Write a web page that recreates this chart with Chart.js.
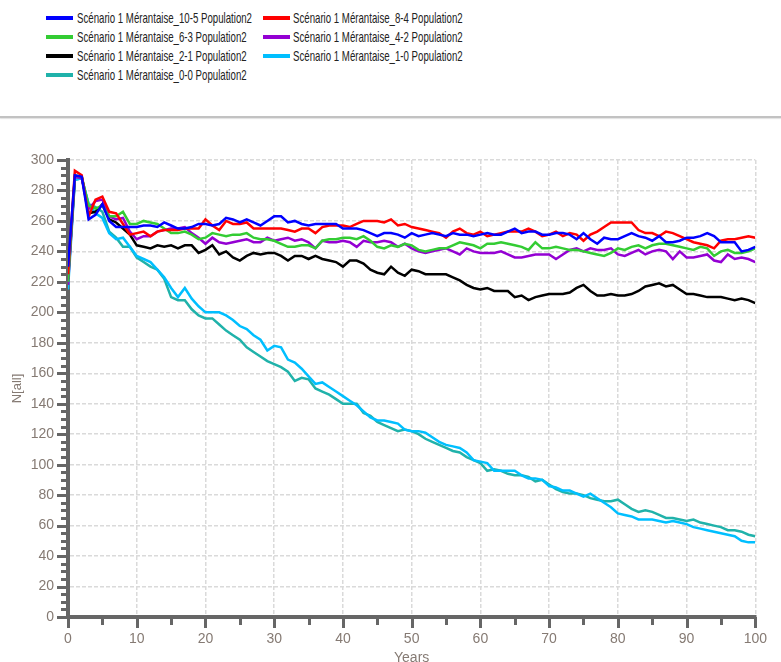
<!DOCTYPE html>
<html><head><meta charset="utf-8">
<script src="https://cdn.jsdelivr.net/npm/chart.js@4.4.1/dist/chart.umd.min.js"></script>
<style>
html,body{margin:0;padding:0;background:#fff;width:781px;height:662px;overflow:hidden;position:relative}
#sep{position:absolute;left:0;top:116px;width:781px;height:2px;background:#c2c2c2;box-shadow:0 1px 1px #e2e2e2}
.sw{position:absolute;width:27px;height:4px}
.tx{position:absolute;white-space:nowrap;font-size:14.5px;font-family:"Liberation Sans Narrow","Liberation Sans",Arial,sans-serif;color:#222;transform-origin:0 50%;line-height:16px}
canvas{position:absolute;left:0;top:0}
</style></head><body>
<div id="legend"></div><div id="sep"></div>
<canvas id="c" width="781" height="662"></canvas>
<script>
const years = [0,1,2,3,4,5,6,7,8,9,10,11,12,13,14,15,16,17,18,19,20,21,22,23,24,25,26,27,28,29,30,31,32,33,34,35,36,37,38,39,40,41,42,43,44,45,46,47,48,49,50,51,52,53,54,55,56,57,58,59,60,61,62,63,64,65,66,67,68,69,70,71,72,73,74,75,76,77,78,79,80,81,82,83,84,85,86,87,88,89,90,91,92,93,94,95,96,97,98,99,100];

const labels = [
  "Scénario 1 Mérantaise_10-5 Population2",
  "Scénario 1 Mérantaise_8-4 Population2",
  "Scénario 1 Mérantaise_6-3 Population2",
  "Scénario 1 Mérantaise_4-2 Population2",
  "Scénario 1 Mérantaise_2-1 Population2",
  "Scénario 1 Mérantaise_1-0 Population2",
  "Scénario 1 Mérantaise_0-0 Population2"
];
const colors = ["#0000ff","#ff0000","#33cc33","#9400d3","#000000","#00bfff","#20b2aa"];

const s10_5 = [230,290,289,261,264,271,260,256,256,256,256,257,257,256,259,257,255,255,256,258,258,257,258,262,261,259,261,259,257,260,263,263,259,260,258,257,258,258,258,258,255,255,255,254,252,250,252,252,251,249,252,250,251,252,251,250,252,251,251,250,251,252,251,251,253,255,252,253,253,251,251,252,252,251,248,252,248,245,249,248,248,250,252,250,249,247,250,246,246,247,249,249,250,252,250,246,246,246,240,241,243];
const s8_4 = [225,293,290,263,274,276,266,265,258,251,252,253,250,253,254,254,254,255,255,255,261,257,254,260,258,258,259,255,255,255,255,255,254,253,255,255,252,256,257,257,257,256,258,260,260,260,259,261,257,258,256,255,254,253,252,249,253,255,252,251,253,250,251,252,253,253,253,255,253,250,251,253,250,252,251,247,251,253,256,259,259,259,259,254,252,252,250,253,252,250,248,246,245,244,242,247,248,248,249,250,249];
const s6_3 = [220,290,289,270,268,270,263,263,266,258,258,260,259,258,255,252,252,253,251,248,249,252,251,250,251,251,252,249,248,248,247,245,243,243,244,244,242,247,248,248,249,249,248,250,247,243,242,244,243,245,244,241,240,241,242,242,244,246,245,244,242,245,245,246,245,244,243,241,246,242,242,243,242,241,241,240,239,238,237,239,242,241,243,244,242,244,245,245,244,243,242,241,243,242,237,240,241,239,239,240,242];
const s4_2 = [218,289,288,268,273,274,263,261,262,253,248,250,250,253,254,255,255,256,252,249,245,249,246,245,246,247,248,246,246,249,247,248,249,247,248,246,242,247,246,246,247,246,243,247,246,246,247,246,243,245,242,240,239,240,241,242,240,238,242,240,239,239,239,240,238,236,236,237,238,238,238,235,238,241,242,240,242,241,241,242,238,237,239,241,238,240,241,240,235,240,236,236,237,238,234,233,238,235,236,235,233];
const s2_1 = [222,289,289,265,266,271,261,259,255,251,244,243,242,244,243,244,242,244,244,239,241,244,238,240,236,234,237,239,238,239,239,237,234,237,237,235,237,235,234,233,230,234,234,232,228,226,225,230,226,224,228,227,225,225,225,225,223,221,218,216,215,216,214,214,214,210,211,208,210,211,212,212,212,213,216,218,214,211,211,212,211,211,212,214,217,218,219,217,218,215,212,212,211,210,210,210,209,208,209,208,206];
const s1_0 = [215,287,288,271,265,262,252,248,249,243,237,235,233,228,223,216,210,216,209,204,200,200,200,198,195,191,189,185,182,175,178,177,169,167,163,158,153,154,151,148,145,142,139,135,131,129,129,128,127,123,122,122,121,118,115,113,112,111,108,103,102,101,96,96,96,96,93,91,91,90,86,85,83,83,81,79,81,78,75,72,68,67,66,64,64,64,63,62,63,62,61,59,58,57,56,55,54,53,50,49,49];
const s0_0 = [220,287,288,271,269,266,253,249,243,243,236,233,230,228,222,210,208,208,202,198,196,196,192,188,185,182,177,174,171,168,166,164,161,155,157,156,150,148,146,143,140,140,140,134,132,128,126,124,122,123,122,120,117,115,113,111,109,108,105,103,101,96,97,96,94,93,93,92,89,90,87,84,82,81,81,80,78,77,76,76,77,74,71,69,70,69,67,65,65,64,63,64,62,61,60,59,57,57,56,54,53];

const series = [s10_5, s8_4, s6_3, s4_2, s2_1, s1_0, s0_0];

const yMin = 0, yMax = 300, yStep = 20, yMinor = 5;
const xMin = 0, xMax = 100, xStep = 10, xMinor = 5;

// HTML legend
const colX = [{sw:46, tx:77},{sw:263, tx:293}];
const rowY = [17.5, 36.5, 55.5, 74.5];
const lg = document.getElementById('legend');
const spans = [];
labels.forEach((t, i) => {
  const row = Math.floor(i/2), col = i % 2;
  const sw = document.createElement('div');
  sw.className = 'sw';
  sw.style.left = colX[col].sw + 'px';
  sw.style.top = (rowY[row] - 2) + 'px';
  sw.style.background = colors[i];
  lg.appendChild(sw);
  const tx = document.createElement('span');
  tx.className = 'tx';
  tx.textContent = t;
  tx.style.left = colX[col].tx + 'px';
  tx.style.top = (rowY[row] - 8) + 'px';
  lg.appendChild(tx);
  spans.push(tx);
});
const w0 = spans[0].getBoundingClientRect().width;
const sc = 175 / w0;
spans.forEach(s => s.style.transform = 'scaleX(' + sc + ')');

const tickColor = '#857a73';
const axisColor = '#666666';

const tickMarks = {
  id: 'tickMarks',
  afterDraw(chart) {
    const {ctx, chartArea: a, scales: {x, y}} = chart;
    ctx.save();
    ctx.strokeStyle = axisColor;
    ctx.lineWidth = 3;
    ctx.beginPath();
    for (let v = yMin; v <= yMax; v += yMinor) {
      const py = Math.round(y.getPixelForValue(v)) + 0.5;
      const len = (v % yStep === 0) ? 11 : 7;
      ctx.moveTo(a.left - len, py);
      ctx.lineTo(a.left, py);
    }
    for (let v = xMin; v <= xMax; v += xMinor) {
      const px = Math.round(x.getPixelForValue(v)) + 0.5;
      const len = (v % xStep === 0) ? 11 : 8;
      ctx.moveTo(px, a.bottom);
      ctx.lineTo(px, a.bottom + len);
    }
    ctx.stroke();
    ctx.restore();
  }
};

const datasets = series.map((s, i) => ({
  label: labels[i],
  data: years.map((yr, j) => ({x: yr, y: s[j]})),
  borderColor: colors[i],
  backgroundColor: colors[i],
  borderWidth: 2.5,
  pointRadius: 0,
  tension: 0,
  fill: false
}));

new Chart(document.getElementById('c'), {
  type: 'line',
  data: { datasets },
  options: {
    responsive: false,
    animation: false,
    layout: { padding: { top: 160, right: 24, left: 0, bottom: 0 } },
    plugins: { legend: { display: false }, tooltip: { enabled: false } },
    scales: {
      x: {
        type: 'linear', min: xMin, max: xMax,
        afterFit: s => { s.height = 45; },
        ticks: { stepSize: xStep, color: tickColor, font: { size: 14, family: 'Liberation Sans' }, padding: 14, maxRotation: 0 },
        grid: { color: '#dadada', lineWidth: 1.5, drawTicks: false },
        border: { display: true, color: axisColor, width: 4, dash: [4, 2] },
        title: { display: true, text: 'Years', color: tickColor, font: { size: 14, family: 'Liberation Sans' }, padding: { top: 0, bottom: -5 } }
      },
      y: {
        min: yMin, max: yMax,
        afterFit: s => { s.width = 68; },
        ticks: { stepSize: yStep, color: tickColor, font: { size: 14, family: 'Liberation Sans' }, padding: 14 },
        grid: { color: '#dadada', lineWidth: 1.5, drawTicks: false },
        border: { display: true, color: axisColor, width: 4, dash: [4, 2] },
        title: { display: true, text: 'N[all]', color: tickColor, font: { size: 13, family: 'Liberation Sans' }, padding: { top: 10, bottom: 0 } }
      }
    }
  },
  plugins: [tickMarks]
});
</script>
</body></html>
